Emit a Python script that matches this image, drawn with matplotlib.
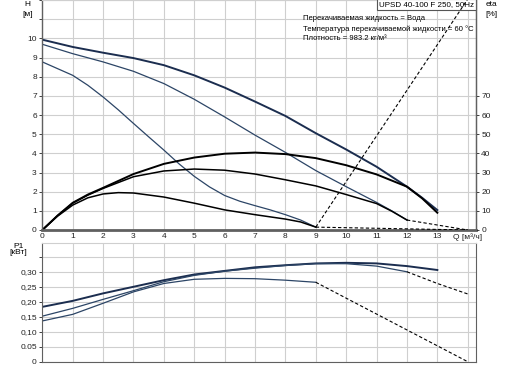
import matplotlib
matplotlib.use("Agg")
import matplotlib.pyplot as plt
import numpy as np

plt.rcParams['font.family'] = ['Liberation Sans', 'DejaVu Sans']

# head curves H [m] vs Q [m3/h]
q_a = [0, 1, 2, 3, 4, 5, 6, 7, 8, 9, 10, 11, 12, 12.5, 13]
h_a = [9.93, 9.55, 9.25, 8.97, 8.6, 8.07, 7.43, 6.7, 5.95, 5.05, 4.2, 3.3, 2.26, 1.68, 1.04]
q_b = [0, 1, 2, 3, 4, 5, 6, 7, 8, 9, 10, 11, 11.5, 12]
h_b = [9.69, 9.2, 8.77, 8.28, 7.64, 6.82, 5.9, 4.95, 4.05, 3.1, 2.26, 1.44, 1.0, 0.52]
q_c = [0, 1, 1.5, 2, 2.5, 3, 3.5, 4, 4.5, 5, 5.5, 6, 6.5, 7, 7.5, 8, 8.5, 9]
h_c = [8.77, 8.07, 7.55, 6.94, 6.27, 5.56, 4.86, 4.17, 3.45, 2.8, 2.25, 1.8, 1.5, 1.27, 1.05, 0.8, 0.52, 0.15]

# efficiency curves (plotted in H units, 1 m = 10 %)
q_e1 = [0, 0.5, 1, 1.5, 2, 3, 4, 5, 6, 7, 8, 9, 10, 11, 12, 12.5, 13]
e1 = [0, 0.75, 1.42, 1.85, 2.2, 2.92, 3.45, 3.78, 3.98, 4.04, 3.96, 3.75, 3.38, 2.9, 2.26, 1.65, 0.9]
q_e2 = [0, 0.5, 1, 1.5, 2, 3, 4, 5, 6, 7, 8, 9, 10, 11, 11.5, 12]
e2 = [0, 0.75, 1.4, 1.82, 2.17, 2.78, 3.08, 3.18, 3.12, 2.92, 2.62, 2.3, 1.85, 1.38, 0.98, 0.52]
q_e3 = [0, 0.5, 1, 1.5, 2, 2.5, 3, 4, 5, 6, 7, 8, 8.5, 9]
e3 = [0, 0.72, 1.3, 1.68, 1.88, 1.95, 1.93, 1.72, 1.4, 1.05, 0.8, 0.57, 0.42, 0.15]

# dashed extensions
q_d1, h_d1 = [9, 14], [0.15, 12.05]
q_d2, h_d2 = [9, 14], [0.15, 0.0]
q_d3, h_d3 = [12, 14], [0.52, 0.0]

# power P1 [kW]
q_pa = [0, 1, 2, 3, 4, 5, 6, 7, 8, 9, 10, 11, 12, 13]
p_a = [0.183, 0.203, 0.228, 0.25, 0.272, 0.291, 0.303, 0.315, 0.322, 0.328, 0.330, 0.328, 0.319, 0.306]
q_pb = [0, 1, 2, 3, 4, 5, 6, 7, 8, 9, 10, 11, 12]
p_b = [0.152, 0.178, 0.208, 0.237, 0.267, 0.288, 0.302, 0.312, 0.321, 0.327, 0.327, 0.319, 0.30]
q_pb_d, p_b_d = [12, 13, 14], [0.30, 0.261, 0.226]
q_pc = [0, 1, 2, 3, 4, 5, 6, 7, 8, 9]
p_c = [0.136, 0.158, 0.195, 0.233, 0.261, 0.275, 0.278, 0.277, 0.272, 0.265]
q_pc_d, p_c_d = [9, 14], [0.265, 0.0]

x_ticks = list(range(0, 15))
x_labels = [str(t) for t in range(0, 14)] + ['Q [м³/ч]']
h_ticks = list(range(0, 11))
eta_ticks = list(range(0, 80, 10))
p_ticks = [0, 0.05, 0.10, 0.15, 0.20, 0.25, 0.30]
p_labels = ['0', '0.05', '0,10', '0,15', '0,20', '0,25', '0,30']

navy = '#1b2d4f'
navy2 = '#2c4566'
spine_c = '#606060'
grid_c = '#cfcfcf'
fs = 6

fig = plt.figure(figsize=(5.08, 3.68), dpi=100)
ax = fig.add_axes([0.0833, 0.375, 0.853, 0.625])
axp = fig.add_axes([0.0833, 0.0171, 0.853, 0.3217])

for a in (ax, axp):
    a.set_xlim(0, 14.26)
    a.set_xticks(x_ticks)
    a.grid(True, color=grid_c, lw=0.8)
    a.set_axisbelow(True)
    for s in a.spines.values():
        s.set_color(spine_c)
    a.spines['top'].set_color(grid_c)
    a.tick_params(axis='both', labelsize=fs, colors='#222222', length=2.5, width=0.6, pad=1.5)
    a.tick_params(axis='x', length=0)

# top chart
ax.set_ylim(0, 12)
ax.set_yticks(list(range(0, 13)))
ax.set_yticklabels([str(t) if t in h_ticks else '' for t in range(0, 13)])
ax.set_xticklabels(x_labels)
ax.tick_params(axis='x', pad=2.5)
ax.spines['bottom'].set_linewidth(2)
ax.spines['left'].set_linewidth(1)
ax.spines['right'].set_linewidth(1)

ax.plot(q_a, h_a, color=navy, lw=1.4)
ax.plot(q_b, h_b, color=navy2, lw=0.9)
ax.plot(q_c, h_c, color=navy2, lw=0.9)
ax.plot(q_e1, e1, color='black', lw=1.4)
ax.plot(q_e2, e2, color='black', lw=1.1)
ax.plot(q_e3, e3, color='black', lw=1.1)
for qq, hh in ((q_d1, h_d1), (q_d2, h_d2), (q_d3, h_d3)):
    ax.plot(qq, hh, color='black', lw=0.8, ls=(0, (3, 2)), zorder=5)

ax2 = ax.twinx()
ax2.set_ylim(0, 120)
ax2.set_yticks(eta_ticks)
ax2.tick_params(axis='y', labelsize=fs, colors='#222222', length=2.5, width=0.6, pad=1.5)
for s in ax2.spines.values():
    s.set_visible(False)
ax2.spines['right'].set_visible(True)
ax2.spines['right'].set_color(spine_c)

ax.text(8.58, 11.03, 'Перекачиваемая жидкость = Вода', fontsize=5.5, va='center', ha='left')
ax.text(8.58, 10.49, 'Температура перекачиваемой жидкости = 60 °C', fontsize=5.5, va='center', ha='left')
ax.text(8.58, 9.97, 'Плотность = 983.2 кг/м³', fontsize=5.5, va='center', ha='left')
ax.text(0.996, 0.997, 'UPSD 40-100 F 250, 50Hz', transform=ax.transAxes, fontsize=5.8,
        ha='right', va='top', zorder=4,
        bbox=dict(boxstyle='square,pad=0.25', fc='white', ec='#555555', lw=0.8))

fig.text(27.5 / 508, 1 - 4 / 368, 'H', fontsize=fs, ha='center', va='center')
fig.text(27.5 / 508, 1 - 14 / 368, '[м]', fontsize=fs, ha='center', va='center')
fig.text(491 / 508, 1 - 4 / 368, 'eta', fontsize=fs, ha='center', va='center')
fig.text(491 / 508, 1 - 14 / 368, '[%]', fontsize=fs, ha='center', va='center')

# bottom chart
axp.set_ylim(0, 0.395)
axp.set_yticks(p_ticks + [0.35])
axp.set_yticklabels(p_labels + [''])
axp.set_xticklabels([])
axp.plot(q_pa, p_a, color=navy, lw=1.4)
axp.plot(q_pb, p_b, color=navy2, lw=0.9)
axp.plot(q_pc, p_c, color=navy2, lw=0.9)
axp.plot(q_pb_d, p_b_d, color='black', lw=0.8, ls=(0, (3, 2)))
axp.plot(q_pc_d, p_c_d, color='black', lw=0.8, ls=(0, (3, 2)))

fig.text(18.5 / 508, 1 - 246 / 368, 'P1', fontsize=fs, ha='center', va='center')
fig.text(18.5 / 508, 1 - 253 / 368, '[кВт]', fontsize=fs, ha='center', va='center')

fig.savefig('out.png', dpi=100)
